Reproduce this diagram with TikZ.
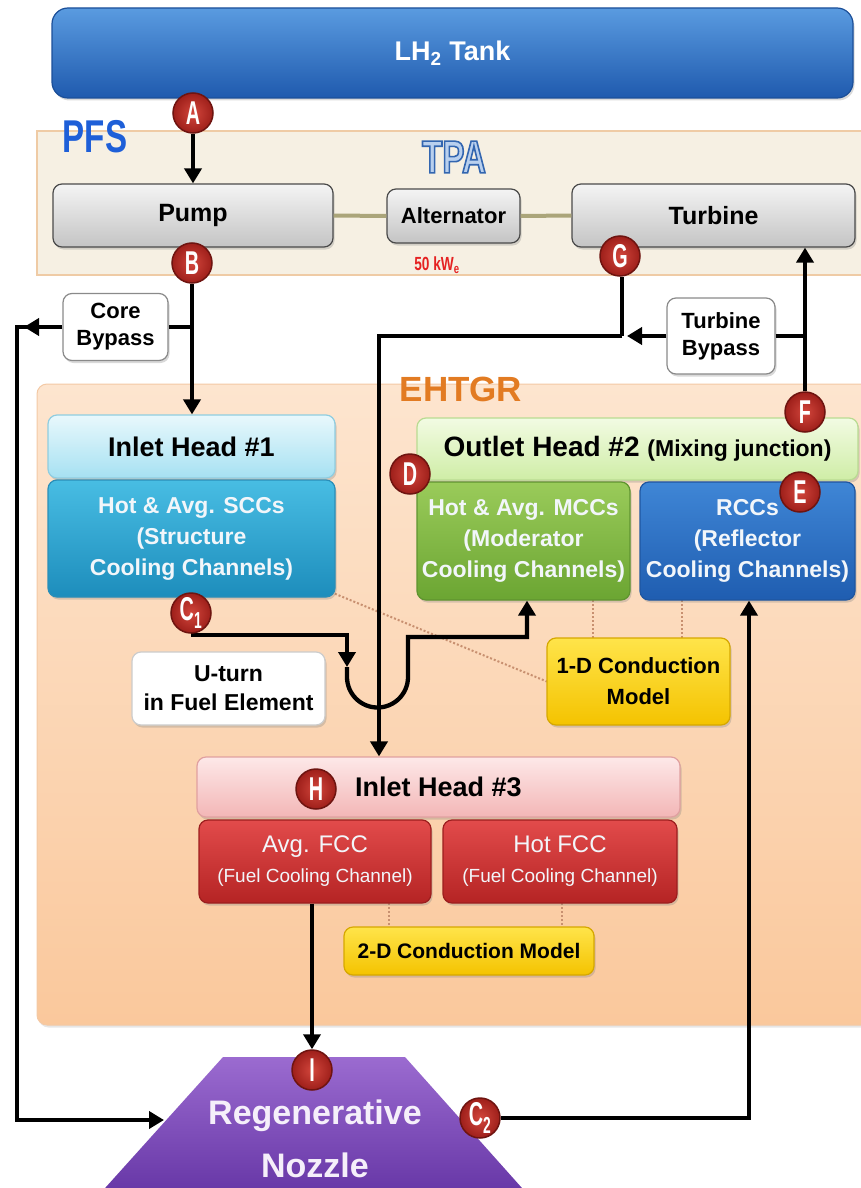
\documentclass[tikz,border=0pt]{standalone}
\usepackage{fontspec}
\setmainfont{Liberation Sans}
\newfontfamily\condf{Liberation Sans}[FakeStretch=0.72]
\newfontfamily\markf{Liberation Sans}[FakeStretch=0.6]
\usetikzlibrary{arrows.meta,shapes.geometric,shadows,calc}
\newcommand{\fsz}[2]{\fontsize{#1}{#2}\selectfont}
\newcommand{\outlined}[1]{\special{pdf:literal direct 2 Tr 1.6 w 0.2 0.4 0.69 RG}#1\special{pdf:literal direct 0 Tr}}
\pgfdeclarelayer{back}
\pgfdeclarelayer{mid}
\pgfsetlayers{back,mid,main}
\definecolor{tankT}{HTML}{5A9BE0}\definecolor{tankB}{HTML}{1F5AAE}\definecolor{tankE}{HTML}{1B4F99}
\definecolor{pfsF}{HTML}{F6F0E3}\definecolor{pfsE}{HTML}{EFCBA5}\definecolor{pfsT}{HTML}{1E5FD8}
\definecolor{tpafill}{HTML}{B9D0EE}
\definecolor{grayT}{HTML}{F4F4F4}\definecolor{grayB}{HTML}{C4C4C4}\definecolor{grayE}{HTML}{4A4A4A}
\definecolor{shaftc}{HTML}{ABA57A}\definecolor{kwT}{HTML}{E52222}
\definecolor{ehT}{HTML}{FDE5CF}\definecolor{ehB}{HTML}{FAC89C}\definecolor{ehE}{HTML}{F3C9A5}\definecolor{ehL}{HTML}{E27B22}
\definecolor{wbE}{HTML}{8A8A8A}
\definecolor{ih1T}{HTML}{E8F8FC}\definecolor{ih1B}{HTML}{A6E1F2}\definecolor{ih1E}{HTML}{8FCDE0}
\definecolor{sccT}{HTML}{48BDE3}\definecolor{sccB}{HTML}{1D8DBC}\definecolor{sccE}{HTML}{2A8EB8}
\definecolor{oh2T}{HTML}{F2FBE3}\definecolor{oh2B}{HTML}{CFEDA6}\definecolor{oh2E}{HTML}{B9DB92}
\definecolor{mccT}{HTML}{9ACB5A}\definecolor{mccB}{HTML}{6BA532}\definecolor{mccE}{HTML}{5F9430}
\definecolor{rccT}{HTML}{3F86D6}\definecolor{rccB}{HTML}{1F5DB0}\definecolor{rccE}{HTML}{1F56A0}
\definecolor{yelT}{HTML}{FFE44A}\definecolor{yelB}{HTML}{F4C300}\definecolor{yelE}{HTML}{D6A800}
\definecolor{ih3T}{HTML}{FDE8E8}\definecolor{ih3B}{HTML}{F3B6B6}\definecolor{ih3E}{HTML}{E0A0A0}
\definecolor{fccT}{HTML}{E24B4B}\definecolor{fccB}{HTML}{B52424}\definecolor{fccE}{HTML}{9C1E1E}
\definecolor{nozT}{HTML}{9B6BD0}\definecolor{nozB}{HTML}{6535A5}\definecolor{nozTx}{HTML}{F5EFFA}
\definecolor{dotc}{HTML}{C89070}
\definecolor{mkI}{HTML}{D2463C}\definecolor{mkO}{HTML}{9E1F1A}\definecolor{mkE}{HTML}{6E1410}
\definecolor{txW}{HTML}{F2F6FA}
\begin{document}
\begin{tikzpicture}[x=1pt,y=-1pt,
 pipe/.style={draw=black, line width=4.3pt},
 arr/.style={-{Triangle[length=15pt,width=17pt]}},
 dotl/.style={draw=dotc, line width=2pt, dash pattern=on 2pt off 2pt},
 shaft/.style={draw=shaftc, line width=4pt},
 box/.style={rounded corners=9pt, align=center, inner sep=0pt, line width=1.2pt,
   drop shadow={opacity=0.3, shadow xshift=1.5pt, shadow yshift=-2.5pt}},
 graybox/.style={box, top color=grayT, bottom color=grayB, draw=grayE, font=\bfseries\fsz{25}{28}},
 whitebox/.style={box, fill=white, draw=wbE, font=\bfseries\fsz{22}{27}},
 colbox/.style={box, text=txW, font=\bfseries\fsz{23}{31}},
 yelbox/.style={box, top color=yelT, bottom color=yelB, draw=yelE, font=\bfseries\fsz{22}{31}},
 marker/.style={circle, minimum size=40pt, inner sep=0pt, inner color=mkI, outer color=mkO,
   draw=mkE, line width=1.5pt, text=white, font=\markf\bfseries\fsz{33}{33}},
]
\useasboundingbox (0,0) rectangle (860,1188);
\clip (0,0) rectangle (860,1188);

\begin{pgfonlayer}{back}
% panels
\node[draw=pfsE, fill=pfsF, line width=1.5pt, minimum width=843pt, minimum height=144pt, inner sep=0pt] (pfs) at (458.5,203) {};
\node[rounded corners=10pt, top color=ehT, bottom color=ehB, draw=ehE, line width=1pt, minimum width=843pt, minimum height=641pt, inner sep=0pt,
  drop shadow={opacity=0.2, shadow xshift=1.5pt, shadow yshift=-2.5pt}] (eh) at (458.5,704.5) {};

% tank
\node[box, rounded corners=16pt, top color=tankT, bottom color=tankB, draw=tankE, minimum width=801pt, minimum height=90pt,
  text=white, font=\bfseries\fsz{27}{27}] (tank) at (452.5,53) {LH\textsubscript{2} Tank};

\node[text=pfsT, font=\condf\bfseries\fsz{46}{46}] (pfsl) at (95,137) {PFS};
\node[text=tpafill, font=\condf\bfseries\fsz{46}{46}] (tpa) at (454,157) {\outlined{TPA}};
\node[text=ehL, font=\bfseries\fsz{35}{35}] (ehl) at (461,389) {EHTGR};

% dotted conduction links
\coordinate (d1) at (593,0);
\coordinate (d2) at (682,0);
\coordinate (d3) at (389,0);
\coordinate (d4) at (562,0);
\node[inner sep=0pt, minimum width=213pt, minimum height=118pt] (mccref) at (523.5,541) {};
\node[inner sep=0pt, minimum width=215pt, minimum height=118pt] (rccref) at (747.5,541) {};
\node[inner sep=0pt, minimum width=183pt, minimum height=87pt] (c1ref) at (638.5,681.5) {};
\node[inner sep=0pt, minimum width=287pt, minimum height=117pt] (sccref) at (191.5,538.5) {};
\node[inner sep=0pt, minimum width=232pt, minimum height=83pt] (afref) at (315,861.5) {};
\node[inner sep=0pt, minimum width=234pt, minimum height=83pt] (hfref) at (560,861.5) {};
\node[inner sep=0pt, minimum width=250pt, minimum height=48pt] (c2ref) at (469,951) {};
\draw[dotl] (d1 |- mccref.south) -- (d1 |- c1ref.north);
\draw[dotl] (d2 |- rccref.south) -- (d2 |- c1ref.north);
\draw[dotl] ($(sccref.south east)+(-4,-5)$) -- (c1ref.west);
\draw[dotl] (d3 |- afref.south) -- (d3 |- c2ref.north);
\draw[dotl] (d4 |- hfref.south) -- (d4 |- c2ref.north);

% TPA
\node[graybox, minimum width=280pt, minimum height=63pt] (pump) at (193,215.5) {Pump};
\node[graybox, minimum width=133pt, minimum height=54pt, font=\bfseries\fsz{22}{22}] (alt) at (453.5,216) {Alternator};
\node[graybox, minimum width=283pt, minimum height=63pt] (turb) at (713.5,215.5) {Turbine};
\draw[shaft] (pump.east) -- (alt.west);
\draw[shaft] (alt.east) -- (turb.west);
\node[text=kwT, font=\condf\bfseries\fsz{19}{19}] (kw) at (437,265) {50 kW\textsubscript{e}};

% bypass boxes
\node[whitebox, minimum width=105pt, minimum height=67pt] (cb) at (115.5,327) {Core\\Bypass};
\node[whitebox, minimum width=108pt, minimum height=76pt] (tb) at (721,336) {Turbine\\Bypass};

% EHTGR boxes
\node[box, top color=ih1T, bottom color=ih1B, draw=ih1E, minimum width=287pt, minimum height=63pt, font=\bfseries\fsz{27}{27}] (ih1) at (191.5,446.5) {Inlet Head \#1};
\node[colbox, top color=sccT, bottom color=sccB, draw=sccE, minimum width=287pt, minimum height=117pt] (scc) at (191.5,538.5) {Hot \& Avg. SCCs\\(Structure\\Cooling Channels)};
\node[box, top color=oh2T, bottom color=oh2B, draw=oh2E, minimum width=441pt, minimum height=62pt, font=\bfseries\fsz{28}{28}] (oh2) at (637.5,449) {Outlet Head \#2 {\fsz{23}{23}(Mixing junction)}};
\node[colbox, top color=mccT, bottom color=mccB, draw=mccE, minimum width=213pt, minimum height=118pt] (mcc) at (523.5,541) {Hot \& Avg. MCCs\\(Moderator\\Cooling Channels)};
\node[colbox, top color=rccT, bottom color=rccB, draw=rccE, minimum width=215pt, minimum height=118pt] (rcc) at (747.5,541) {RCCs\\(Reflector\\Cooling Channels)};
\node[yelbox, minimum width=183pt, minimum height=87pt] (cond1) at (638.5,681.5) {1-D Conduction\\Model};
\node[whitebox, draw=white!80!black, minimum width=193pt, minimum height=73pt, font=\bfseries\fsz{23}{29}] (ut) at (228.5,688.5) {U-turn\\in Fuel Element};
\node[box, top color=ih3T, bottom color=ih3B, draw=ih3E, minimum width=483pt, minimum height=60pt, font=\bfseries\fsz{27}{27}] (ih3) at (438.5,787) {Inlet Head \#3};
\node[colbox, top color=fccT, bottom color=fccB, draw=fccE, minimum width=232pt, minimum height=83pt, font=\fsz{24}{30}] (afcc) at (315,861.5) {Avg. FCC\\{\fsz{19}{19}(Fuel Cooling Channel)}};
\node[colbox, top color=fccT, bottom color=fccB, draw=fccE, minimum width=234pt, minimum height=83pt, font=\fsz{24}{30}] (hfcc) at (560,861.5) {Hot FCC\\{\fsz{19}{19}(Fuel Cooling Channel)}};
\node[yelbox, minimum width=250pt, minimum height=48pt, font=\bfseries\fsz{21}{21}] (cond2) at (469,951) {2-D Conduction Model};

% nozzle
\shade[top color=nozT, bottom color=nozB] (223,1057) -- (405,1057) -- (530,1197) -- (97,1197) -- cycle;
\coordinate (nozW) at (164,1120);
\node[text=nozTx, align=center, font=\bfseries\fsz{34}{53}] (nozt) at (315,1139) {Regenerative\\Nozzle};
\end{pgfonlayer}

% markers (main layer, on top)
\node[marker] (A) at (193,113) {A};
\node[marker] (B) at (192,263) {B};
\node[marker] (G) at (620,256) {G};
\node[marker] (F) at (805,412) {F};
\node[marker] (D) at (410,474) {D};
\node[marker] (E) at (800,492) {E};
\node[marker] (C1) at (191,613) {C\textsubscript{1}};
\node[marker] (H) at (316,789) {H};
\node[marker] (I) at (312,1070) {I};
\node[marker] (C2) at (480,1118) {C\textsubscript{2}};

% pipes (middle layer)
\begin{pgfonlayer}{mid}
\coordinate (jB) at (192,327);
\coordinate (cbL) at (17,327);
\draw[pipe,arr] (A.south) -- (A.south |- pump.north);
\draw[pipe,arr] (B.south) -- (B.south |- ih1.north);
\draw[pipe] (jB) -- (jB -| cb.east);
\draw[pipe,arr] (cb.west) -- ($(cbL)+(7,0)$);
\draw[pipe,arr] ($(cbL)+(10,0)$) -- (cbL) -- (cbL |- nozW) -- (nozW);

\coordinate (jG) at (622,336);
\coordinate (xG) at (379,0);
\draw[pipe] (jG |- G.south) -- (jG);
\draw[pipe,arr] (tb.west) -- ($(jG)+(5,0)$);
\draw[pipe,arr] (jG) -- (xG |- jG) -- (xG |- ih3.north);
\draw[pipe,arr] (F.north) -- (F.north |- turb.south);
\draw[pipe] (tb.east) -- (F.north |- tb.east);

\coordinate (uT) at (347,635);
\coordinate (uA) at (347,667);
\coordinate (uB) at (527,637);
\draw[pipe,arr] (C1.center |- uT) -- (uT) -- (uA);
\draw[pipe,arr] (uA) -- ++(0,10) arc[start angle=180, end angle=0, radius=30.5] -- (408,637) -- (uB) -- (uB |- mcc.south);

\coordinate (c2r) at (749,1118);
\draw[pipe,arr] (C2.east) -- (c2r) -- (c2r |- rcc.south);
\draw[pipe,arr] (I.north |- afcc.south) -- (I.north);
\end{pgfonlayer}
\end{tikzpicture}
\end{document}
